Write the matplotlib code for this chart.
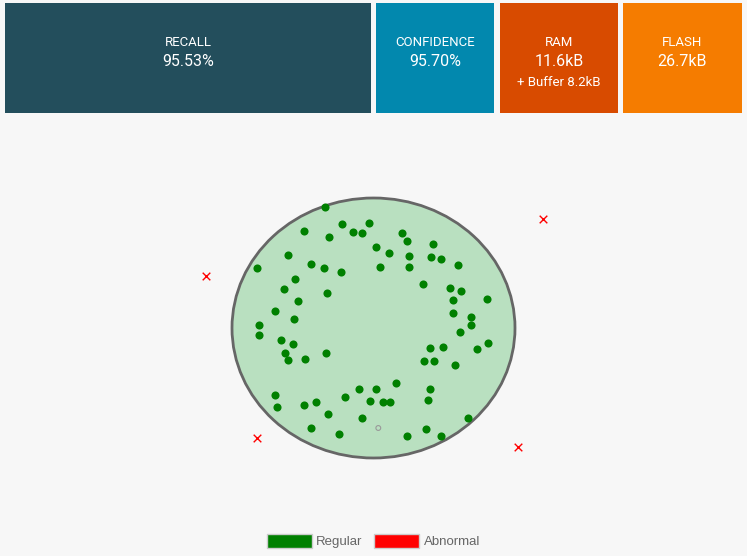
import matplotlib
matplotlib.use("Agg")
import matplotlib.pyplot as plt
from matplotlib.patches import Ellipse, Patch
from matplotlib import font_manager

# summary tiles
tile_titles = ["RECALL", "CONFIDENCE", "RAM", "FLASH"]
tile_values = ["95.53%", "95.70%", "11.6kB", "26.7kB"]
tile_notes = ["", "", "+ Buffer 8.2kB", ""]
tile_colors = ["#234e5c", "#0288ae", "#d84b00", "#f57c00"]

# regular samples (screen-like coords of the feature plane)
reg_x = [325, 342, 369, 303.7, 353.3, 362, 329.3, 401.7, 407.3, 433, 376, 388.7,
         408.7, 431.3, 441.3, 288, 257, 311, 323.7, 340.7, 380.3, 408.7, 458.3,
         295.3, 284, 326.7, 423, 450, 461.3, 486.7, 452.7, 298.3, 275.3, 294,
         452.7, 471, 471, 258.7, 258.7, 459.7, 281.3, 292.7, 488, 285.3, 288,
         305.3, 326.3, 430, 442.7, 476.7, 424.3, 434.3, 455.3, 396, 359, 376,
         430, 275.3, 344.7, 428.3, 370.3, 383, 390.3, 276.7, 303.7, 316.3, 328,
         362, 468.3, 311, 339.3, 425.7, 407.3, 441.3]
reg_y = [207, 224, 223, 230.7, 232, 233.3, 237.3, 233.3, 241.3, 244, 246.7, 253.3,
         256, 257.3, 258.7, 254.7, 268, 264, 268, 272, 266.7, 266.7, 265.3,
         278.7, 289.3, 293.3, 284, 288, 290.7, 298.7, 300, 301.3, 310.7, 318.7,
         313.3, 317.3, 325.3, 325.3, 334.7, 332, 340, 344, 342.7, 353.3, 360,
         358.7, 353.3, 347.7, 346.7, 349.3, 361.3, 361.3, 365.3, 382.7, 389.3, 389.3,
         389.3, 394.7, 397.3, 400, 401, 402.3, 402.3, 406.7, 405, 402.3, 414.3,
         418.3, 418.3, 427.7, 434.3, 429, 435.7, 435.7]
# abnormal samples
abn_x = [543.3, 206, 257, 517.7]
abn_y = [219, 276, 438.3, 447.3]
# selected sample
sel_x = [378.3]
sel_y = [428]

# narrow font if there is one
names = {f.name for f in font_manager.fontManager.ttflist}
tile_font = "Liberation Sans Narrow" if "Liberation Sans Narrow" in names else "Roboto"

bg = "#f7f7f7"
fig = plt.figure(figsize=(7.47, 5.56), dpi=100, facecolor=bg)
ax = fig.add_axes([0, 0, 1, 1])
ax.set_xlim(0, 747)
ax.set_ylim(556, 0)
ax.axis("off")
ax.set_facecolor(bg)

# tiles
tile_x = [5, 376, 500, 623]
tile_w = [366, 118, 118, 119]
for i in range(len(tile_titles)):
    ax.add_patch(plt.Rectangle((tile_x[i], 3), tile_w[i], 110, color=tile_colors[i], lw=0))
    cx = tile_x[i] + tile_w[i] / 2
    ax.text(cx, 42, tile_titles[i], color="white", ha="center", va="center",
            fontsize=9.5, family=tile_font)
    ax.text(cx, 62, tile_values[i], color="white", ha="center", va="center",
            fontsize=11.5, family=tile_font)
    if tile_notes[i]:
        ax.text(cx, 83, tile_notes[i], color="white", ha="center", va="center",
                fontsize=9.5, family=tile_font)

# decision boundary
ax.add_patch(Ellipse((373.5, 328), 283, 260, facecolor="#b9e0c0",
                     edgecolor="#666666", lw=2, zorder=1))

ax.scatter(reg_x, reg_y, s=34, color="#008000", zorder=3, linewidths=0)
ax.scatter(abn_x, abn_y, s=30, marker="x", color="#ff0000", linewidths=1, zorder=3)
ax.scatter(sel_x, sel_y, s=12, facecolor="none", edgecolor="#999999",
           linewidths=0.8, zorder=3)

handles = [Patch(facecolor="#008000", edgecolor="#cccccc", label="Regular"),
           Patch(facecolor="#ff0000", edgecolor="#cccccc", label="Abnormal")]
leg = fig.legend(handles=handles, loc="center", bbox_to_anchor=(0.5, 1 - 541 / 556),
                 ncol=2, frameon=False, handlelength=3.4,
                 handleheight=1.25, handletextpad=0.35, columnspacing=0.9,
                 prop={"family": "Liberation Sans", "size": 9.5})
for t in leg.get_texts():
    t.set_color("#666666")

fig.savefig("out.png", dpi=100, facecolor=bg)
